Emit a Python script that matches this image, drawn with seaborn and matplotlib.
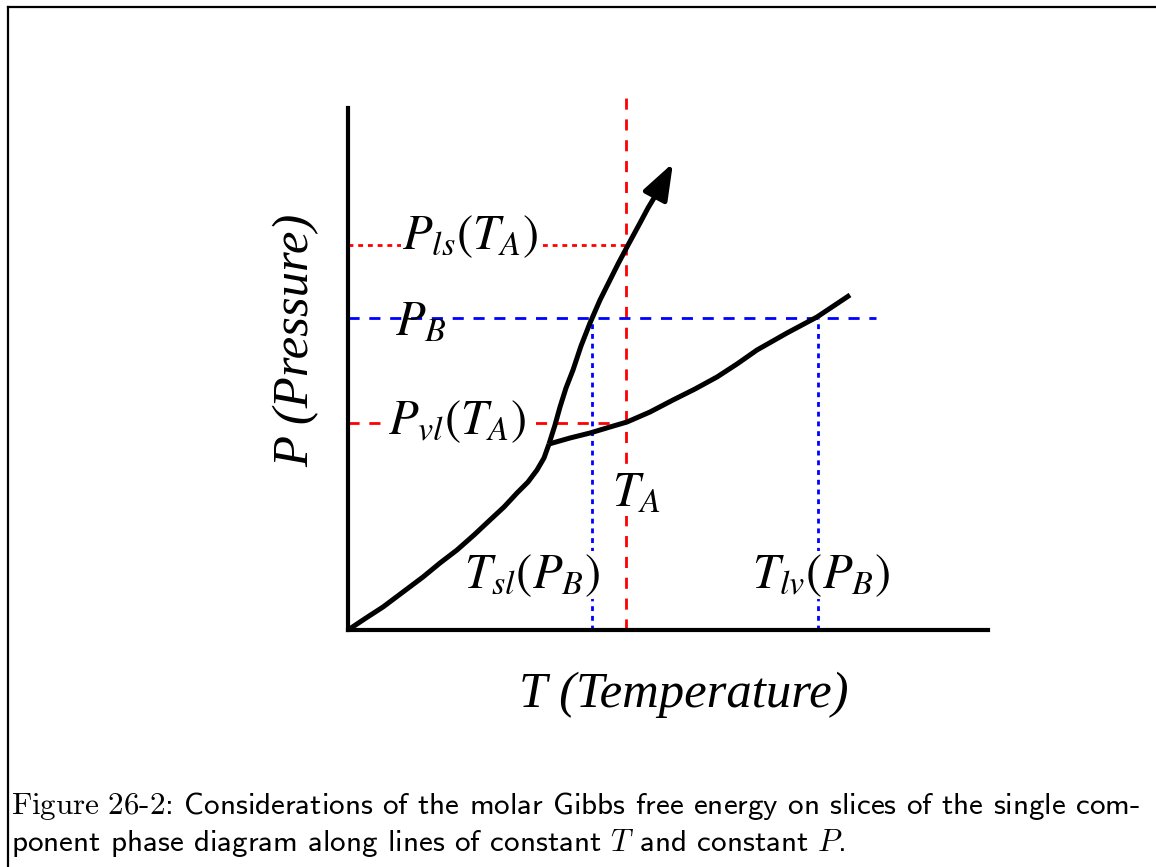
import matplotlib
matplotlib.use("Agg")
import matplotlib.pyplot as plt
import seaborn as sns
from matplotlib.lines import Line2D

# ---------------- data (arbitrary units: T 0..640, P 0..522) ----------------
sub_T = [0, 18, 35, 55, 75, 92, 109, 126, 142, 156, 169, 180, 189, 196, 201]
sub_P = [0, 12, 23, 38, 53, 67, 80, 95, 110, 123, 137, 148, 160, 172, 186]

melt_T = [201, 207, 212, 218, 225, 233, 242, 252, 262, 270, 279, 292, 300, 309]
melt_P = [186, 205, 223, 242, 260, 284, 307, 330, 350, 366, 383, 407, 422, 437]
melt_tip = (325, 467)

vap_T = [201, 222, 242, 262, 279, 302, 325, 347, 369, 389, 409, 439, 469, 502]
vap_P = [186, 192, 197, 203, 208, 218, 230, 241, 253, 266, 280, 297, 313, 335]

T_A = 278
P_ls = 385
P_vl = 207
P_B = 312
T_sl = 244
T_lv = 470
T_max, P_max = 640, 522
red_top = 534
blue_right = 528

labels = {
    "P_ls": (r"$P_{ls}(T_A)$", 122, 394),
    "P_B": (r"$P_B$", 73, 309),
    "P_vl": (r"$P_{vl}(T_A)$", 109, 209),
    "T_A": (r"$T_A$", 288, 138),
    "T_sl": (r"$T_{sl}(P_B)$", 184, 55),
    "T_lv": (r"$T_{lv}(P_B)$", 473, 55),
}
xlabel = "T (Temperature)"
ylabel = "P (Pressure)"
caption1 = r"$\mathrm{Figure\ 26}$-$\mathrm{2}$: Considerations of the molar Gibbs free energy on slices of the single com-"
caption2 = r"ponent phase diagram along lines of constant $T$ and constant $P$."

# ---------------- figure ----------------
sns.set_style("white")
plt.rcParams["lines.scale_dashes"] = False
plt.rcParams["text.color"] = "black"
W, H = 1156, 867
fig = plt.figure(figsize=(W / 100, H / 100), dpi=100)
ax = fig.add_axes([348 / W, 1 - 630 / H, 640 / W, (630 - 108) / H])
ax.set_xlim(0, T_max)
ax.set_ylim(0, P_max)
ax.set_xticks([])
ax.set_yticks([])
for s in ["top", "right"]:
    ax.spines[s].set_visible(False)
for s in ["left", "bottom"]:
    ax.spines[s].set_linewidth(3.0)
    ax.spines[s].set_color("black")
ax.patch.set_alpha(0)

lw_ref = 2.0
red, blue = "#ff0000", "#0000ff"
dash = (0, (8, 7))
dot = (0, (3.5, 3.5))

# reference lines
ax.plot([T_A, T_A], [0, red_top], color=red, lw=lw_ref, linestyle=dash, clip_on=False, zorder=1)
ax.plot([0, T_A], [P_ls, P_ls], color=red, lw=lw_ref, linestyle=dot, zorder=1)
ax.plot([0, T_A], [P_vl, P_vl], color=red, lw=lw_ref, linestyle=dash, zorder=1)
ax.plot([0, blue_right], [P_B, P_B], color=blue, lw=lw_ref, linestyle=dash, zorder=1)
ax.plot([T_sl, T_sl], [0, P_B], color=blue, lw=lw_ref, linestyle=dot, zorder=1)
ax.plot([T_lv, T_lv], [0, P_B], color=blue, lw=lw_ref, linestyle=dot, zorder=1)

# phase boundaries
curve_lw = 3.6
for tt, pp in [(sub_T, sub_P), (melt_T, melt_P), (vap_T, vap_P)]:
    sns.lineplot(x=tt, y=pp, ax=ax, sort=False, color="black", lw=curve_lw,
                 estimator=None, zorder=3, solid_capstyle="butt", solid_joinstyle="round")
ax.annotate("", xy=melt_tip, xytext=(melt_T[-1], melt_P[-1]),
            arrowprops=dict(arrowstyle="-|>,head_length=1.1,head_width=0.4",
                            mutation_scale=20, lw=curve_lw, color="black",
                            shrinkA=0, shrinkB=0),
            zorder=3, annotation_clip=False)

# labels
for key, (txt, x, y) in labels.items():
    kw = dict(ha="center", va="center", fontsize=35, math_fontfamily="stix",
              color="black", zorder=5)
    if key != "P_B":
        kw["bbox"] = dict(facecolor="white", edgecolor="none", pad=0.5)
    ax.text(x, y, txt, **kw)

fig.text(684 / W, 1 - 695 / H, xlabel, ha="center", va="center", color="black",
         family="Liberation Serif", style="italic", fontsize=36.5)
fig.text(296 / W, 1 - 340 / H, ylabel, ha="center", va="center", rotation=90,
         color="black", family="Liberation Serif", style="italic", fontsize=36.5)

# caption
cap_kw = dict(family=["cmss10", "DejaVu Sans"], math_fontfamily="cm", ha="left",
              va="baseline", color="black")
t1 = fig.text(11 / W, 1 - 814 / H, caption1, fontsize=16, **cap_kw)
fig.canvas.draw()
w = t1.get_window_extent().width
fs = 16 * (1130 / w)
t1.set_fontsize(fs)
fig.text(11 / W, 1 - 851 / H, caption2, fontsize=fs, **cap_kw)

# frame (left and top edges of the figure box)
fig.add_artist(Line2D([8 / W, 8 / W], [0, 1 - 7 / H], transform=fig.transFigure,
                      color="black", lw=1.6, solid_capstyle="projecting"))
fig.add_artist(Line2D([8 / W, 1], [1 - 7 / H, 1 - 7 / H], transform=fig.transFigure,
                      color="black", lw=1.6, solid_capstyle="projecting"))

fig.savefig("out.png", dpi=100)
